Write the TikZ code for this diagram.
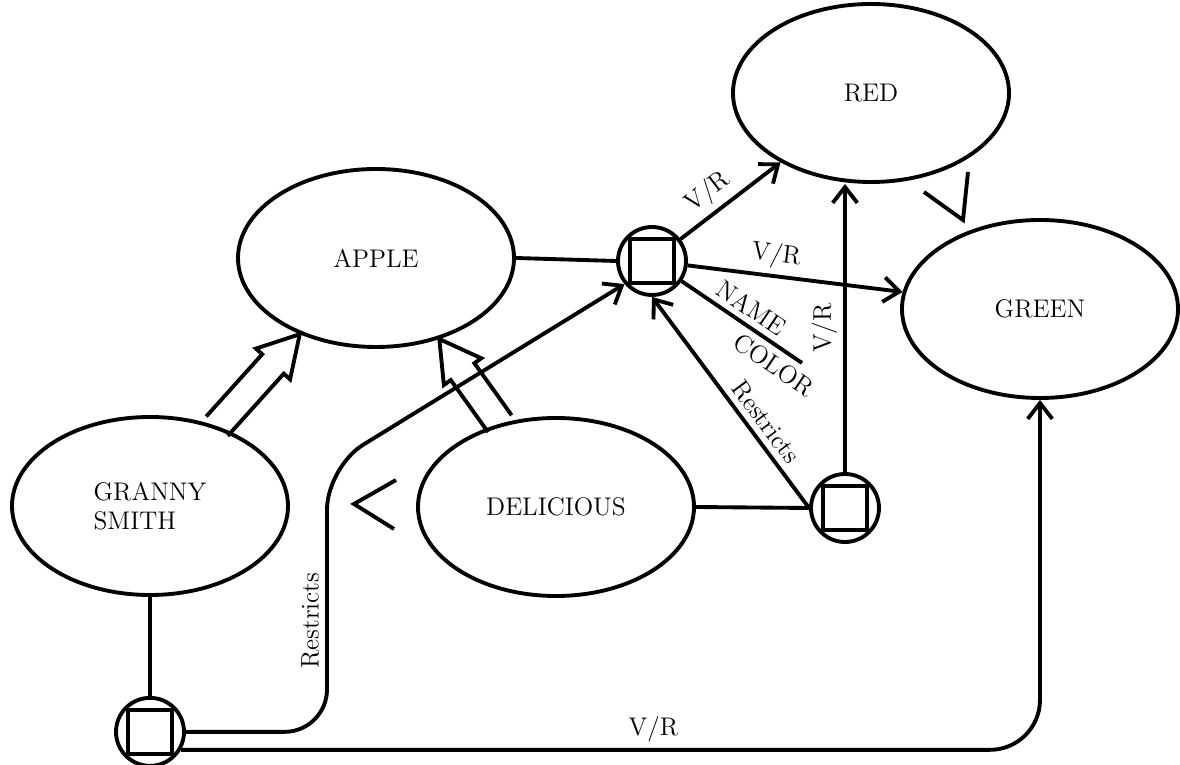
\documentclass[tikz,border=0pt]{standalone}
\usepackage{fontspec}
\usepackage{tikz}
\usetikzlibrary{positioning}
\usetikzlibrary{arrows.meta}
\usetikzlibrary{shapes.geometric}
\usetikzlibrary{calc}

\newcommand{\isaarrow}[2]{%
        \coordinate (neck) at ($(#2)!0.8cm!(#1)$);
        \draw[line join=miter]
        ($(#1)!0.29cm!90:(#2)$) -- ($(neck)!0.29cm!-90:(#1)$)
        -- ($(neck)!0.46cm!-90:(#1)$) -- (#2)
        -- ($(neck)!0.46cm!90:(#1)$) -- ($(neck)!0.29cm!90:(#1)$)
        -- ($(#1)!0.29cm!-90:(#2)$);
}

\begin{document}
\begin{tikzpicture}[line width=2.2pt,
        font=\fontsize{14.5}{16.5}\selectfont,
        concept/.style={draw, ellipse, minimum width=5.52cm,
            minimum height=3.56cm, inner sep=0pt},
        relation/.style={draw, circle, minimum size=1.36cm, inner sep=0pt,
            path picture={\draw ([shift={(-0.44,-0.44)}]path picture bounding box.center)
                rectangle ++(0.88,0.88);}},
        arr/.style={-{Straight Barb[length=9pt,width=14pt]}}]
        \useasboundingbox (0,0) rectangle (23.6,15.3);

        \node[concept] (apple) at (7.52,10.14) {APPLE};
        \node[concept] (red) at (17.42,13.44) {RED};
        \node[concept] (green) at (20.8,9.12) {GREEN};
        \node[concept] (delicious) at (11.12,5.16) {DELICIOUS};
        \node[concept, align=left] (granny) at (3.0,5.18) {GRANNY\\SMITH};

        \node[relation] (apprel) at (13.04,10.08) {};
        \node[relation] (delrel) at (16.9,5.14) {};
        \node[relation, below=1.98cm of granny] (grrel) {};
        \coordinate (namecolor) at (16.04,8.04);
        \coordinate (bend) at (6.54,5.96);

        \isaarrow{granny.50}{apple.225}
        \isaarrow{delicious.124}{apple.308}

        \draw (apple.east) -- (apprel.west);
        \draw[arr] (apprel) -- node[above, sloped, pos=0.4] {V/R} (red);
        \draw[arr] (apprel) -- node[above, sloped, pos=0.4] {V/R} (green);
        \draw (apprel) -- node[above, sloped, pos=0.5] {NAME}
        node[below, sloped, pos=0.85] {COLOR} (namecolor);

        \draw (delicious.east) -- (delrel.west);
        \draw[arr] (delrel.west) -- node[above, sloped, pos=0.36] {Restricts} (apprel.south);
        \draw[arr] (delrel.north) -- node[above, sloped, pos=0.5] {V/R} (delrel |- red.south);

        \draw (granny.south) -- (grrel.north);
        \draw[arr, rounded corners=0.85cm] (grrel.east) -- (grrel.east -| bend)
        -- node[above, sloped, pos=0.42] {Restricts} (bend) -- (apprel.220);
        \draw[arr, rounded corners=1cm] (grrel.-30)
        -- node[above, pos=0.55] {V/R} (grrel.-30 -| green.south) -- (green.south);

        \draw (7.92,5.7) -- (7.08,5.22) -- (7.88,4.72);
        \draw (18.48,11.46) -- (19.26,10.9) -- (19.36,11.86);
    \end{tikzpicture}
\end{document}
